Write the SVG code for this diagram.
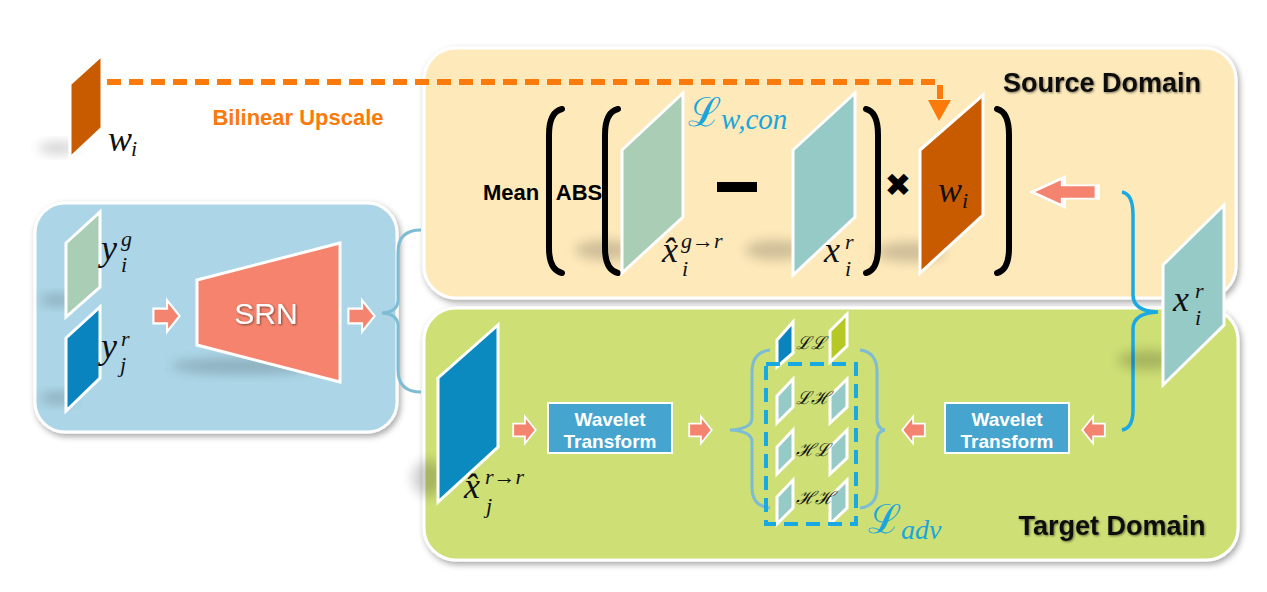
<svg xmlns="http://www.w3.org/2000/svg" width="1267" height="592" viewBox="0 0 1267 592">
<defs>
<style>
.panel{stroke:#ffffff;stroke-width:3;}
.bt{font-family:"Liberation Sans",Arial,sans-serif;font-weight:bold;}
.m{font-family:"Liberation Serif","DejaVu Serif",serif;font-style:italic;fill:#111;font-size:36px;}
.s{font-family:"Liberation Serif","DejaVu Serif",serif;font-style:italic;fill:#111;font-size:22px;}
.sc{font-family:"DejaVu Serif","Liberation Serif",serif;fill:#111;font-size:18px;font-style:italic;}
.br{fill:none;stroke:#000;stroke-width:6;stroke-linecap:round;}
.arr{fill:#f4846f;stroke:#ffffff;stroke-width:2;}
.wt{fill:#45a5cf;stroke:#ffffff;stroke-width:2;}
.wtt{font-family:"Liberation Sans",Arial,sans-serif;font-weight:bold;font-size:19px;fill:#ffffff;text-anchor:middle;}
.shd{fill:#000;opacity:0.18;filter:url(#blur);}
.edge{fill:none;stroke:#ffffff;stroke-width:2;opacity:0.8;}
</style>
<filter id="blur" x="-50%" y="-50%" width="200%" height="200%"><feGaussianBlur stdDeviation="6"/></filter>
<filter id="box" x="-10%" y="-10%" width="120%" height="120%"><feDropShadow dx="2" dy="3" stdDeviation="3" flood-color="#000" flood-opacity="0.35"/></filter>
<filter id="ts" x="-10%" y="-30%" width="120%" height="160%"><feDropShadow dx="1" dy="1" stdDeviation="1.2" flood-color="#000" flood-opacity="0.5"/></filter>
<path id="ar" d="M-12 -7 L1 -7 L1 -15 L13 0 L1 15 L1 7 L-12 7 Z"/>
</defs>
<rect width="1267" height="592" fill="#ffffff"/>

<!-- panels -->
<g id="source-domain">
<rect x="424" y="48" width="812" height="250" rx="32" fill="#fde9ba" stroke="#ffffff" stroke-width="3" filter="url(#box)"/>
<text x="1102" y="92" class="bt" font-size="27" text-anchor="middle" fill="#111" filter="url(#ts)">Source Domain</text>
</g>
<g id="target-domain">
<rect x="424" y="308" width="814" height="252" rx="32" fill="#cddf75" stroke="#ffffff" stroke-width="3" filter="url(#box)"/>
<text x="1112" y="535" class="bt" font-size="27" text-anchor="middle" fill="#111" filter="url(#ts)">Target Domain</text>
</g>
<g id="srn-panel">
<rect x="35" y="203" width="362" height="229" rx="30" fill="#acd6e7" stroke="#ffffff" stroke-width="3" filter="url(#box)"/>
</g>

<!-- w_i small -->
<g id="w-small">
<ellipse cx="58" cy="148" rx="20" ry="6" class="shd" opacity="0.3"/>
<polygon class="panel" points="70,84 102,55 102,128 70,158" fill="#c85b00"/>
<text x="108" y="151" class="m">w</text><text x="131" y="156" class="s">i</text>
</g>

<!-- connectors -->
<g id="connectors">
<path d="M107 82 H940 V102" fill="none" stroke="#fb7a0c" stroke-width="6" stroke-dasharray="14 8"/>
<polygon points="928,100 951,100 939,121" fill="#fb7a0c"/>
<text x="298" y="125" class="bt" font-size="22" text-anchor="middle" fill="#fb7a0c">Bilinear Upscale</text>
<path d="M421 230 Q398 230 398 252 V300 Q398 312 382 313 Q398 314 398 326 V370 Q398 392 421 392" fill="none" stroke="#7dbcd3" stroke-width="3"/>
<path d="M1122 192 Q1133 194 1133 215 V295 Q1133 311 1158 312 Q1133 313 1133 329 V410 Q1133 428 1122 430" fill="none" stroke="#1aa9e3" stroke-width="3.5"/>
<use href="#ar" class="arr" transform="translate(166,316) scale(1.05)"/>
<use href="#ar" class="arr" transform="translate(361,316) scale(1.05)"/>
<use href="#ar" class="arr" transform="translate(1066,192) scale(-2.6,0.95)"/>
<use href="#ar" class="arr" transform="translate(524,430) scale(0.9)"/>
<use href="#ar" class="arr" transform="translate(700,430) scale(0.9)"/>
<use href="#ar" class="arr" transform="translate(914,430) scale(-0.9,0.9)"/>
<use href="#ar" class="arr" transform="translate(1094,430) scale(-0.9,0.9)"/>
<path d="M770 350 Q752 352 752 372 V418 Q752 429 730 430 Q752 431 752 442 V488 Q752 506 770 508" fill="none" stroke="#7dbcd3" stroke-width="3"/>
<path d="M860 350 Q877 352 877 372 V418 Q877 429 885 430 Q877 431 877 442 V488 Q877 506 860 508" fill="none" stroke="#7dbcd3" stroke-width="3"/>
</g>

<!-- SRN panel inputs -->
<g id="y-ig">
<ellipse cx="58" cy="300" rx="18" ry="6" class="shd"/>
<polygon class="panel" points="66,243 100,212 100,287 66,317" fill="#a9cdb5"/>
<text x="101" y="260" class="m">y</text><text x="121" y="246" class="s">g</text><text x="121" y="272" class="s">i</text>
</g>
<g id="y-jr">
<ellipse cx="58" cy="398" rx="18" ry="6" class="shd"/>
<polygon class="panel" points="66,338 100,307 100,378 66,411" fill="#0a84bf"/>
<text x="101" y="358" class="m">y</text><text x="121" y="346" class="s">r</text><text x="120" y="372" class="s">j</text>
</g>
<g id="srn">
<ellipse cx="245" cy="366" rx="75" ry="8" class="shd"/>
<polygon points="197,280 340,243 340,382 197,345" fill="#f5836d" stroke="#ffffff" stroke-width="3"/>
<text x="266" y="324" font-family="Liberation Sans,Arial,sans-serif" font-size="30" fill="#ffffff" text-anchor="middle" filter="url(#ts)">SRN</text>
</g>

<!-- Source domain formula -->
<g id="formula">
<text x="511" y="200" class="bt" font-size="22" text-anchor="middle" fill="#000">Mean</text>
<path class="br" d="M562 109 Q549 112 549 135 V248 Q549 270 562 273"/>
<text x="579" y="200" class="bt" font-size="22" text-anchor="middle" fill="#000">ABS</text>
<path class="br" d="M618 109 Q605 112 605 135 V248 Q605 270 618 273"/>
<path class="br" d="M866 109 Q878 112 878 135 V248 Q878 270 866 273"/>
<path class="br" d="M997 109 Q1009 112 1009 135 V248 Q1009 270 997 273"/>
<rect x="717" y="182" width="40" height="10" fill="#000"/>
<text x="898" y="196" font-family="DejaVu Sans,sans-serif" font-size="32" text-anchor="middle" fill="#000">✖</text>
</g>
<g id="x-hat-gr">
<ellipse cx="605" cy="250" rx="30" ry="10" class="shd" opacity="0.15"/>
<polygon class="panel" points="622,150 683,93 683,217 622,273" fill="#aacdb5"/>
<text x="688" y="126" font-family="DejaVu Serif,serif" font-size="40" fill="#1aa6dc">ℒ</text>
<text x="721" y="129" class="s" style="fill:#1aa6dc;font-size:29px">w,con</text>
<text x="662" y="262" class="m">x̂</text><text x="681" y="248" class="s">g→r</text><text x="682" y="276" class="s">i</text>
</g>
<g id="x-ir-src">
<ellipse cx="775" cy="250" rx="30" ry="10" class="shd" opacity="0.15"/>
<polygon class="panel" points="793,150 855,93 855,217 793,275" fill="#96cac6"/>
<text x="824" y="262" class="m">x</text><text x="845" y="249" class="s">r</text><text x="845" y="276" class="s">i</text>
</g>
<g id="w-large">
<ellipse cx="910" cy="252" rx="35" ry="10" class="shd" opacity="0.18"/>
<polygon class="panel" points="920,150 983,95 983,215 920,273" fill="#c85b00"/>
<text x="938" y="202" class="m">w</text><text x="962" y="208" class="s">i</text>
</g>

<!-- right x_i^r -->
<g id="x-ir">
<ellipse cx="1148" cy="360" rx="30" ry="10" class="shd" opacity="0.2"/>
<polygon class="panel" points="1163,265 1224,205 1224,325 1163,385" fill="#96cac6"/>
<text x="1173" y="311" class="m">x</text><text x="1195" y="298" class="s">r</text><text x="1195" y="325" class="s">i</text>
</g>

<!-- target domain -->
<g id="x-hat-rr">
<ellipse cx="428" cy="478" rx="16" ry="18" class="shd" opacity="0.3"/>
<polygon class="panel" points="438,378 498,325 498,447 438,502" fill="#0a8abf"/>
<text x="464" y="498" class="m">x̂</text><text x="485" y="484" class="s">r→r</text><text x="486" y="513" class="s">j</text>
</g>
<g id="wavelet-left">
<rect x="548" y="403" width="124" height="50" class="wt"/>
<text x="610" y="426" class="wtt">Wavelet</text>
<text x="610" y="448" class="wtt">Transform</text>
</g>
<g id="wavelet-right">
<rect x="945" y="403" width="124" height="50" class="wt"/>
<text x="1007" y="426" class="wtt">Wavelet</text>
<text x="1007" y="448" class="wtt">Transform</text>
</g>
<g id="bands">
<polygon class="panel" points="777,340 793,322 793,353 777,367" fill="#0a84bf"/>
<polygon class="panel" points="830,331 847,314 847,346 830,362" fill="#b5c825"/>
<polygon class="panel" points="777,396 793,379 793,407 777,423" fill="#96cac6"/>
<polygon class="panel" points="830,396 847,379 847,407 830,423" fill="#96cac6"/>
<polygon class="panel" points="777,447 793,430 793,458 777,474" fill="#96cac6"/>
<polygon class="panel" points="830,447 847,430 847,458 830,474" fill="#96cac6"/>
<polygon class="panel" points="777,497 793,480 793,508 777,524" fill="#96cac6"/>
<polygon class="panel" points="830,497 847,480 847,508 830,524" fill="#96cac6"/>
<text x="796" y="349" class="sc">ℒℒ</text>
<text x="796" y="404" class="sc">ℒℋ</text>
<text x="796" y="456" class="sc">ℋℒ</text>
<text x="796" y="504" class="sc">ℋℋ</text>
<rect x="766" y="364" width="90" height="160" fill="none" stroke="#18a9e2" stroke-width="4" stroke-dasharray="14 8"/>
<text x="868" y="533" font-family="DejaVu Serif,serif" font-size="40" fill="#1aa6dc">ℒ</text>
<text x="901" y="539" class="s" style="fill:#1aa6dc;font-size:28px">adv</text>
</g>
</svg>
